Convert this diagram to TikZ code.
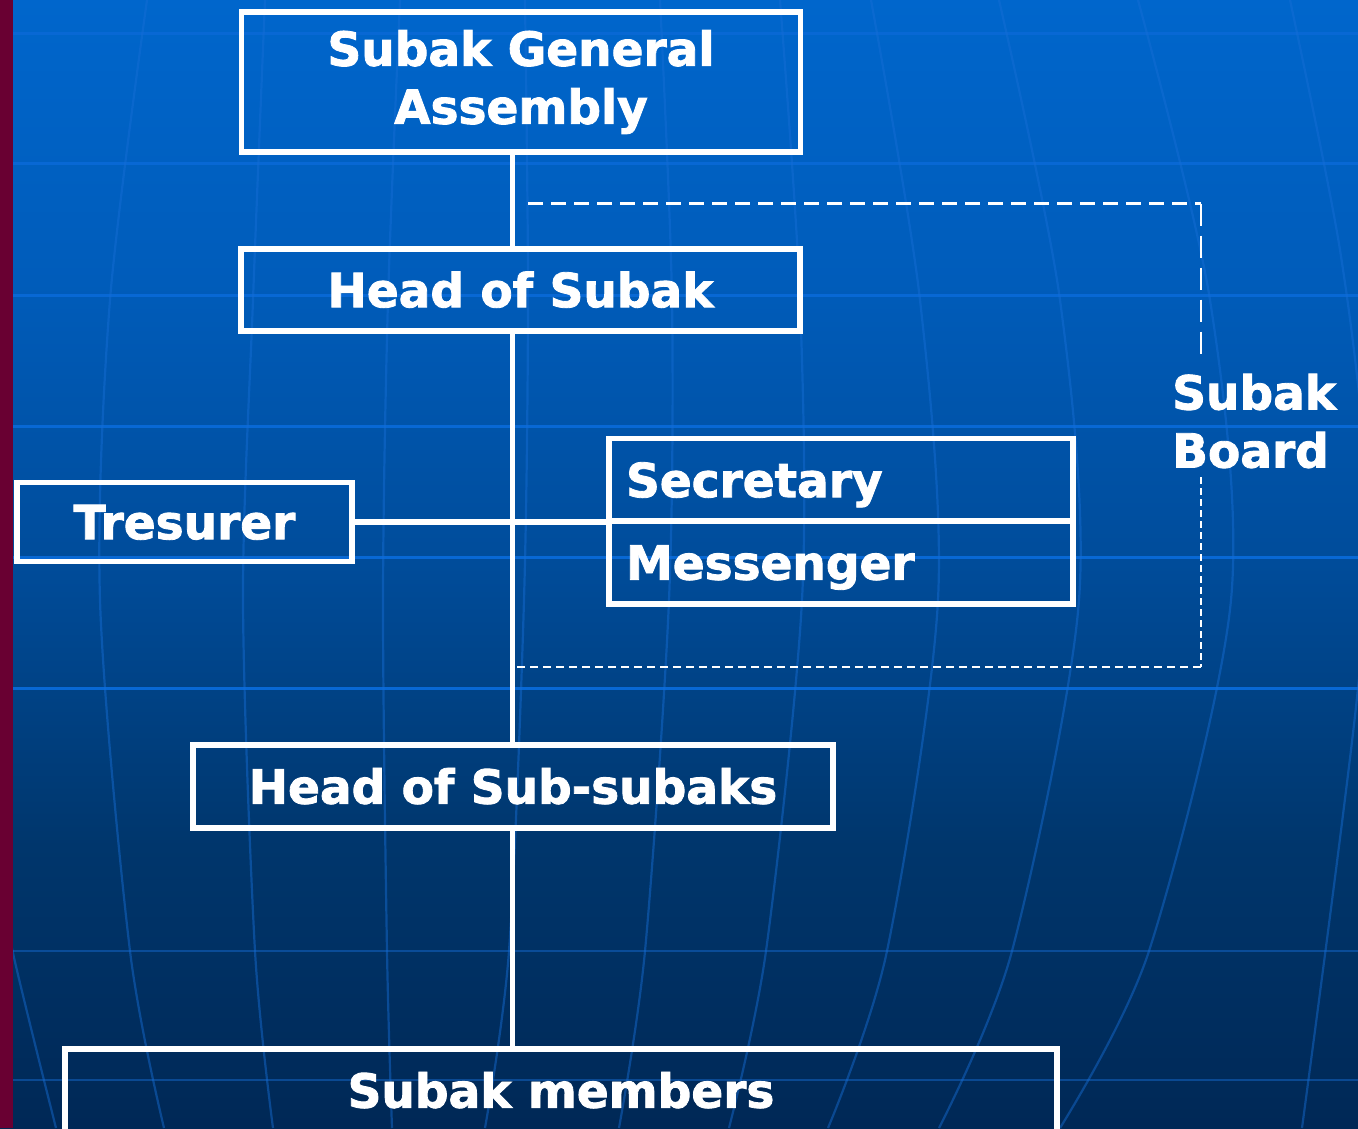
\documentclass[tikz,border=0pt]{standalone}
\usepackage{fontspec}
\setmainfont[BoldFeatures={FakeBold=1.8}]{DejaVu Sans}
\definecolor{bgA}{RGB}{0,40,86}
\definecolor{bgB}{RGB}{0,54,108}
\definecolor{bgC}{RGB}{0,76,154}
\definecolor{bgD}{RGB}{0,92,186}
\definecolor{bgE}{RGB}{0,102,204}
\definecolor{gridbright}{RGB}{8,104,212}
\definecolor{gridsoft}{RGB}{22,110,214}
\definecolor{stripred}{RGB}{105,0,50}
\pgfdeclareverticalshading{bgshade}{100bp}{color(0bp)=(bgA); color(25bp)=(bgA); color(37.5bp)=(bgB); color(50bp)=(bgC); color(62.5bp)=(bgD); color(75bp)=(bgE); color(100bp)=(bgE)}
\begin{document}
\begin{tikzpicture}[x=1pt,y=-1pt,
  boxfont/.style={font=\bfseries\fontsize{47}{58}\selectfont},
  box/.style={boxfont, rectangle, draw=white, line width=5.5pt, text=white, inner sep=0pt, text height=42.3pt, text depth=8pt},
  boxml/.style={boxfont, rectangle, draw=white, line width=5.5pt, text=white, inner sep=0pt, align=center},
  listbox/.style={box, align=left, inner xsep=17pt, text width=430pt, minimum width=464pt, minimum height=83pt},
  lbl/.style={boxfont, text=white, inner sep=0pt, align=left},
  conn/.style={draw=white, line width=5.5pt},
  hline/.style={draw=gridbright, line width=3pt},
  mline/.style={draw=gridsoft, draw opacity=0.46, line width=2.2pt},
  dashtop/.style={draw=white, line width=2.5pt, dash pattern=on 15pt off 8pt},
  dashup/.style={draw=white, line width=2.5pt, dash pattern=on 22pt off 10pt},
  dashlow/.style={draw=white, line width=2pt, dash pattern=on 7pt off 4pt},
  dashbot/.style={draw=white, line width=2.5pt, dash pattern=on 8pt off 5pt}]
\useasboundingbox (0,0) rectangle (1358,1128);
\clip (0,0) rectangle (1358,1128);
% background
\shade[shading=bgshade] (0,0) rectangle (1358,1128);
\foreach \yy in {33,163,295,426,557,688} \draw[hline] (13,\yy) -- (1358,\yy);
\foreach \yy in {951,1080} \draw[mline] (13,\yy) -- (1358,\yy);
\draw[mline] plot[smooth] coordinates {(0,870) (13,953) (56,1128)};
\draw[mline] plot[smooth] coordinates {(147,0) (110,300) (100,600) (130,951) (164,1128)};
\draw[mline] plot[smooth] coordinates {(265,0) (253,300) (243,600) (255,951) (273,1128)};
\draw[mline] plot[smooth] coordinates {(400,0) (388,300) (383,600) (387,951) (392,1128)};
\draw[mline] plot[smooth] coordinates {(525,0) (528,300) (524,600) (509,951) (485,1128)};
\draw[mline] plot[smooth] coordinates {(660,0) (672,300) (669,600) (645,951) (619,1128)};
\draw[mline] plot[smooth] coordinates {(780,0) (800,300) (802,600) (766,951) (729,1128)};
\draw[mline] plot[smooth] coordinates {(871,0) (920,300) (938,600) (887,951) (828,1128)};
\draw[mline] plot[smooth] coordinates {(999,0) (1060,300) (1079,600) (1012,951) (939,1128)};
\draw[mline] plot[smooth] coordinates {(1138,0) (1210,300) (1231,600) (1149,951) (1060,1128)};
\draw[mline] plot[smooth] coordinates {(1290,0) (1340,250) (1366,480) (1358,688) (1302,1128)};
\fill[stripred] (0,0) rectangle (13,1128);
% boxes
\node[boxml, minimum width=559pt, minimum height=140pt] (sga) at (521,82) {Subak General\\Assembly};
\node[box, minimum width=559pt, minimum height=82pt] (hos) at (520.5,290) {Head of Subak};
\node[box, minimum width=335pt, minimum height=79pt] (trs) at (184.5,522) {Tresurer};
\node[listbox] (sec) at (841,480) {Secretary};
\node[listbox] (mes) at (841,562.5) {Messenger};
\node[box, minimum width=640pt, minimum height=83pt] (hss) at (513,786.5) {Head of Sub-subaks};
\node[box, minimum width=992pt, minimum height=83pt] (mem) at (561,1090.5) {Subak members};
\node[lbl, anchor=west] (board) at (1172,421) {Subak\\Board};
% connectors
\coordinate (tx) at (512.5,0);
\draw[conn] (sga.south -| tx) -- (hos.north -| tx);
\draw[conn] (hos.south -| tx) -- (hss.north -| tx);
\draw[conn] (hss.south -| tx) -- (mem.north -| tx);
\draw[conn] (trs.east) -- (trs.east -| sec.west);
% subak board bracket
\coordinate (bTL) at (528,203.5);
\coordinate (bTR) at (1201,203.5);
\coordinate (bUp) at (1201,360);
\coordinate (bLo) at (1201,477);
\coordinate (bBR) at (1201,667);
\coordinate (bBL) at (516,667);
\draw[dashtop] (bTL) -- (bTR);
\draw[dashup] (bTR) -- (bUp);
\draw[dashlow] (bLo) -- (bBR);
\draw[dashbot] (bBR) -- (bBL);
\end{tikzpicture}
\end{document}
